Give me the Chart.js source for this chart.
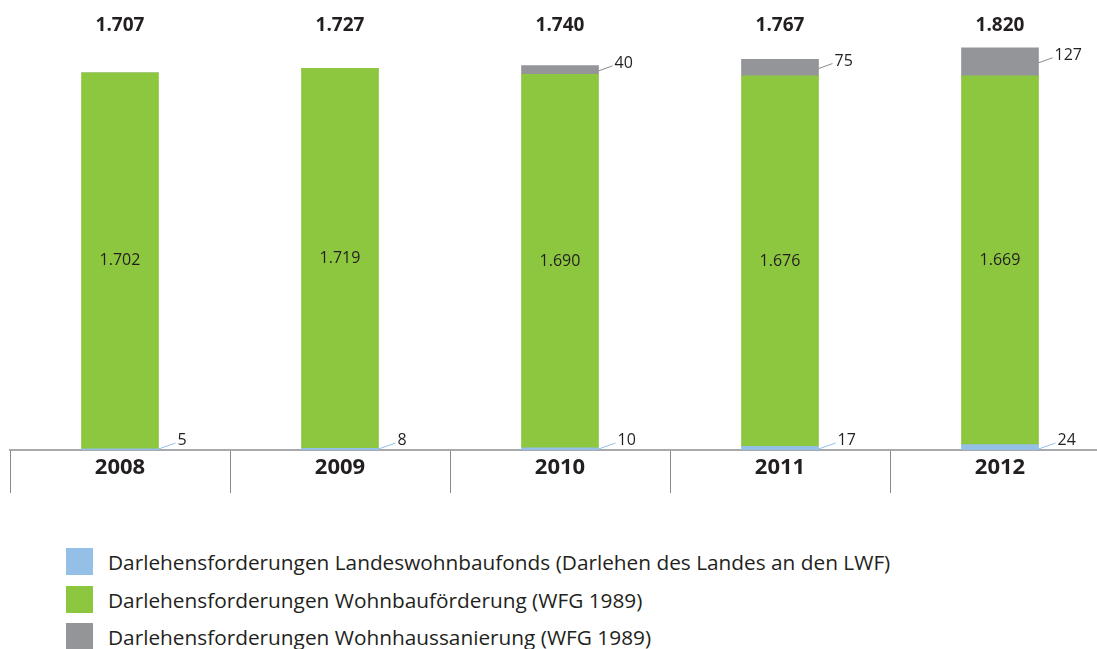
<!DOCTYPE html>
<html>
<head>
<meta charset="utf-8">
<script src="https://cdn.jsdelivr.net/npm/chart.js@4"></script>
<style>
  html, body { margin: 0; padding: 0; background: #fff; overflow: hidden; width: 1097px; height: 649px; }
  #wrap { position: absolute; left: 0; top: 0; width: 1120px; height: 500px; }
  .legend { position: absolute; left: 66px; font-family: "Open Sans", sans-serif; font-size: 20.8px; color: #231f20; }
  .legend .row { position: absolute; left: 0; height: 27px; white-space: nowrap; }
  .legend .box { position: absolute; left: 0; top: 0; width: 27px; height: 27px; }
  .legend .txt { position: absolute; left: 42px; top: 50%; transform: translateY(-50%); line-height: 1; }
</style>
</head>
<body>
<div id="wrap"><canvas id="chart" width="1120" height="500"></canvas></div>
<div class="legend" id="legend"></div>
<script>
// Daten (Mio. EUR)
const years = ['2008', '2009', '2010', '2011', '2012'];
const landesfonds = [5, 8, 10, 17, 24];
const wohnbau = [1702, 1719, 1690, 1676, 1669];
const sanierung = [0, 0, 40, 75, 127];
const totals = ['1.707', '1.727', '1.740', '1.767', '1.820'];
const seriesNames = [
    'Darlehensforderungen Landeswohnbaufonds (Darlehen des Landes an den LWF)',
    'Darlehensforderungen Wohnbauförderung (WFG 1989)',
    'Darlehensforderungen Wohnhaussanierung (WFG 1989)'
];
const colors = ['#94bfe7', '#8dc63f', '#939598'];

const textColor = '#231f20';
const font = '"Open Sans", sans-serif';

function fmt(n) {
    return String(n).replace(/\B(?=(\d{3})+$)/g, '.');
}

// Beschriftungen
const labelPlugin = {
    id: 'labels',
    afterDatasetsDraw(chart) {
        const ctx = chart.ctx;
        const xs = chart.scales.x;
        const mBlue = chart.getDatasetMeta(0);
        const mGreen = chart.getDatasetMeta(1);
        const mGrey = chart.getDatasetMeta(2);
        ctx.save();
        years.forEach((y, i) => {
            const cx = xs.getPixelForValue(i);
            // Jahr
            ctx.fillStyle = textColor;
            ctx.font = 'bold 22px ' + font;
            ctx.textAlign = 'center';
            ctx.textBaseline = 'middle';
            ctx.fillText(y, cx, 468);
            // Summe
            ctx.font = 'bold 19px ' + font;
            ctx.fillText(totals[i], cx, 26);
            // Wohnbauförderung in der Mitte
            const g = mGreen.data[i];
            ctx.font = '16px ' + font;
            ctx.fillText(fmt(wohnbau[i]), g.x, (g.y + g.base) / 2);
            // Landeswohnbaufonds
            const b = mBlue.data[i];
            const right = b.x + b.width / 2;
            ctx.strokeStyle = colors[0];
            ctx.lineWidth = 1;
            ctx.beginPath();
            ctx.moveTo(right, b.base - 1);
            ctx.lineTo(right + 17, b.base - 7);
            ctx.stroke();
            ctx.font = '16px ' + font;
            ctx.textAlign = 'left';
            ctx.fillText(fmt(landesfonds[i]), right + 19, b.base - 10);
            // Wohnhaussanierung
            if (sanierung[i] > 0) {
                const s = mGrey.data[i];
                const mid = (s.y + s.base) / 2;
                ctx.strokeStyle = '#8a8a8a';
                ctx.beginPath();
                ctx.moveTo(right, mid + 1);
                ctx.lineTo(right + 14, mid - 4);
                ctx.stroke();
                ctx.fillText(fmt(sanierung[i]), right + 16, mid - 6);
            }
        });
        ctx.restore();
    }
};

const chart = new Chart(document.getElementById('chart').getContext('2d'), {
    type: 'bar',
    data: {
        labels: years,
        datasets: [
            { label: seriesNames[0], data: landesfonds, backgroundColor: colors[0] },
            { label: seriesNames[1], data: wohnbau, backgroundColor: colors[1] },
            { label: seriesNames[2], data: sanierung, backgroundColor: colors[2] }
        ]
    },
    options: {
        responsive: false,
        animation: false,
        layout: { padding: { left: 10, right: 10, top: 8, bottom: 7 } },
        datasets: { bar: { barThickness: 77 } },
        scales: {
            x: {
                stacked: true,
                offset: true,
                grid: { offset: true, drawOnChartArea: false, tickLength: 43, color: '#8a8a8a', lineWidth: 1 },
                border: { color: '#a7a9ac', width: 2 },
                ticks: { display: false }
            },
            y: {
                stacked: true,
                display: false,
                min: 0,
                max: 2000
            }
        },
        plugins: {
            legend: { display: false },
            tooltip: { enabled: false }
        }
    },
    plugins: [labelPlugin]
});

// Legende
const legend = document.getElementById('legend');
const tops = [548, 586, 623];
seriesNames.forEach((name, i) => {
    const row = document.createElement('div');
    row.className = 'row';
    row.style.top = tops[i] + 'px';
    row.innerHTML = `<div class="box" style="background:${colors[i]}"></div><div class="txt">${name}</div>`;
    legend.appendChild(row);
});
</script>
</body>
</html>
